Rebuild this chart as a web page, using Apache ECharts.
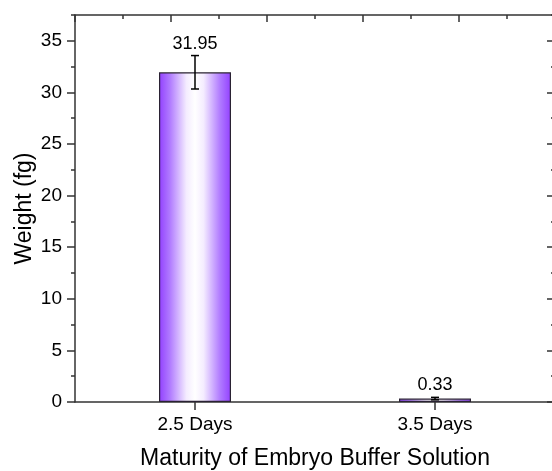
<!DOCTYPE html>
<html>
<head>
<meta charset="utf-8">
<script src="https://cdn.jsdelivr.net/npm/echarts@6/dist/echarts.min.js"></script>
<style>
html,body{margin:0;padding:0;background:#fff;}
#chart{width:552px;height:471px;}
</style>
</head>
<body>
<div id="chart"></div>
<script>
const categories = ['2.5 Days', '3.5 Days'];
const weights = [31.95, 0.33];
const errors = [1.62, 0.12];
const yMajorTicks = [0, 5, 10, 15, 20, 25, 30, 35];

const FONT = 'Liberation Sans, Arial, sans-serif';
const AX = '#333';

const chart = echarts.init(document.getElementById('chart'), null, {renderer: 'canvas'});

const barGradient = new echarts.graphic.LinearGradient(0, 0, 1, 0, [
  {offset: 0, color: '#9240ff'},
  {offset: 0.15, color: '#b07aff'},
  {offset: 0.38, color: '#f4ecff'},
  {offset: 0.5, color: '#ffffff'},
  {offset: 0.62, color: '#f4ecff'},
  {offset: 0.85, color: '#b07aff'},
  {offset: 1, color: '#9240ff'}
]);

const errData = categories.map((c, i) => [i, weights[i], errors[i]]);

const baseY = {
  type: 'value', min: 0, max: 37.5, gridIndex: 0,
  splitLine: {show: false}
};

const option = {
  animation: false,
  backgroundColor: '#fff',
  grid: {left: 75, right: -3, top: 15, bottom: 69, containLabel: false, outerBoundsMode: 'none'},
  xAxis: [
    {
      type: 'category', data: categories, position: 'bottom',
      name: 'Maturity of Embryo Buffer Solution', nameLocation: 'middle', nameGap: 45,
      nameTextStyle: {fontFamily: FONT, fontSize: 23, color: '#000'},
      axisLine: {show: true, lineStyle: {color: AX, width: 1.5}},
      axisTick: {show: true, alignWithLabel: true, inside: false, length: 8, lineStyle: {color: AX, width: 1.5}},
      axisLabel: {fontFamily: FONT, fontSize: 19, color: '#000', margin: 13},
      splitLine: {show: false}
    },
    {
      type: 'value', min: 0, max: 5, interval: 1, position: 'top', gridIndex: 0,
      axisLine: {show: true, onZero: false, lineStyle: {color: AX, width: 1.5}},
      axisTick: {show: true, inside: true, length: 7, lineStyle: {color: AX, width: 1.5}},
      minorTick: {show: true, splitNumber: 2, length: 4, lineStyle: {color: AX, width: 1.5}},
      axisLabel: {show: false},
      splitLine: {show: false}
    }
  ],
  yAxis: [
    Object.assign({}, baseY, {
      position: 'left',
      name: 'Weight (fg)', nameLocation: 'middle', nameGap: 39, nameMoveOverlap: false,
      nameTextStyle: {fontFamily: FONT, fontSize: 23, color: '#000'},
      axisLine: {show: true, onZero: false, lineStyle: {color: AX, width: 1.5}},
      axisTick: {show: true, inside: false, length: 8, customValues: yMajorTicks, lineStyle: {color: AX, width: 1.5}},
      axisLabel: {fontFamily: FONT, fontSize: 19, color: '#000', margin: 13, customValues: yMajorTicks}
    }),
    Object.assign({}, baseY, {
      position: 'left', interval: 2.5,
      axisLine: {show: false},
      axisTick: {show: true, inside: false, length: 4, lineStyle: {color: AX, width: 1.5}},
      axisLabel: {show: false}
    }),
    Object.assign({}, baseY, {
      position: 'right',
      axisLine: {show: true, onZero: false, lineStyle: {color: AX, width: 1.5}},
      axisTick: {show: true, inside: true, length: 8, customValues: yMajorTicks, lineStyle: {color: AX, width: 1.5}},
      axisLabel: {show: false}
    }),
    Object.assign({}, baseY, {
      position: 'right', interval: 2.5,
      axisLine: {show: false},
      axisTick: {show: true, inside: true, length: 4, lineStyle: {color: AX, width: 1.5}},
      axisLabel: {show: false}
    })
  ],
  series: [
    {
      type: 'bar', xAxisIndex: 0, yAxisIndex: 0,
      data: weights, barWidth: '30%',
      itemStyle: {color: barGradient, borderColor: '#2a2233', borderWidth: 1.2},
      z: 2
    },
    {
      type: 'custom', xAxisIndex: 0, yAxisIndex: 0,
      data: errData, z: 3,
      renderItem: function (params, api) {
        const x = api.value(0), v = api.value(1), e = api.value(2);
        const top = api.coord([x, v + e]);
        const bot = api.coord([x, v - e]);
        const cap = 4;
        const ls = {stroke: '#000', lineWidth: 1.5};
        return {
          type: 'group',
          children: [
            {type: 'line', shape: {x1: top[0], y1: top[1], x2: bot[0], y2: bot[1]}, style: ls},
            {type: 'line', shape: {x1: top[0] - cap, y1: top[1], x2: top[0] + cap, y2: top[1]}, style: ls},
            {type: 'line', shape: {x1: bot[0] - cap, y1: bot[1], x2: bot[0] + cap, y2: bot[1]}, style: ls},
            {type: 'text', x: top[0], y: top[1] - 3,
              style: {text: v.toFixed(2), fill: '#000', font: '18px ' + FONT, align: 'center', verticalAlign: 'bottom'}}
          ]
        };
      }
    }
  ]
};
chart.setOption(option);
</script>
</body>
</html>
